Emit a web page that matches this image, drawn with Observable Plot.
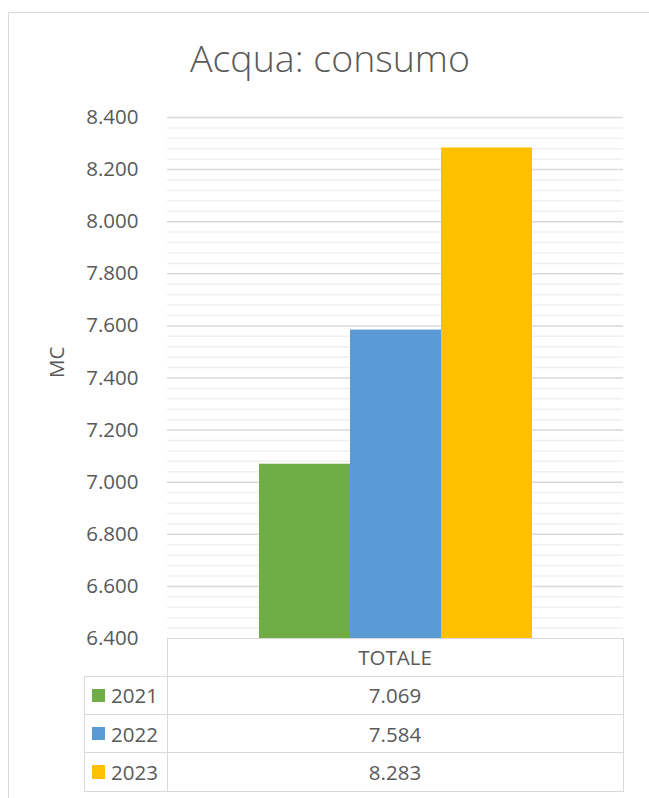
<!DOCTYPE html>
<html>
<head>
<meta charset="utf-8">
<script src="https://cdn.jsdelivr.net/npm/d3@7"></script>
<script src="https://cdn.jsdelivr.net/npm/@observablehq/plot@0.6"></script>
<style>
  html, body { margin: 0; padding: 0; background: #fff; }
  #wrap { position: relative; width: 649px; height: 798px; overflow: hidden; font-family: "Open Sans", sans-serif; color: #595959; }
  #border { position: absolute; left: 8px; top: 12px; width: 800px; height: 900px; border-top: 1.5px solid #d9d9d9; border-left: 1.5px solid #d9d9d9; }
  #title { position: absolute; left: 0; width: 660px; top: 36px; text-align: center; font-size: 37.5px; font-weight: 300; line-height: 44px; color: #595959; }
  #chart { position: absolute; left: 0; top: 0; }
  .cell { position: absolute; box-sizing: border-box; border: 1.5px solid #d9d9d9; font-size: 20.5px; color: #595959; display: flex; align-items: center; }
</style>
</head>
<body>
<div id="wrap">
  <div id="border"></div>
  <div id="title">Acqua: consumo</div>
  <div id="chart"></div>
  <div id="table"></div>
</div>
<script>
const years = ["2021", "2022", "2023"];
const values = [7069, 7584, 8283];
const colors = ["#70ad47", "#5b9bd5", "#ffc000"];
const category = "TOTALE";
const yLabel = "MC";
const yDomain = [6400, 8400];

const it = d3.formatLocale({decimal: ",", thousands: ".", grouping: [3], currency: ["€", ""]});
const fmt = it.format(",");

const data = years.map((y, i) => ({year: y, value: values[i], color: colors[i]}));
const majorTicks = d3.range(yDomain[0], yDomain[1] + 1, 200);
const minorTicks = d3.range(yDomain[0], yDomain[1], 40).filter(v => v % 200 !== 0);

const plot = Plot.plot({
  width: 649,
  height: 640,
  marginTop: 117,
  marginBottom: 2,
  marginLeft: 167,
  marginRight: 26,
  style: {fontFamily: "Open Sans, sans-serif", color: "#595959", background: "transparent", overflow: "visible"},
  x: {domain: years, padding: 0, inset: 91.2, axis: null},
  y: {domain: yDomain, axis: null},
  marks: [
    Plot.ruleY(minorTicks, {stroke: "#f0f0f0", strokeWidth: 1.5}),
    Plot.ruleY(majorTicks.slice(1), {stroke: "#d9d9d9", strokeWidth: 1.5}),
    Plot.barY(data, {x: "year", y1: yDomain[0], y2: "value", fill: "color"}),
    Plot.axisY(majorTicks, {tickSize: 0, tickPadding: 29, tickFormat: fmt, fontSize: 20.5, fill: "#595959", label: null}),
    Plot.text([yLabel], {frameAnchor: "left", dx: -110, rotate: -90, fontSize: 20.5, fill: "#595959", text: d => d})
  ]
});
document.getElementById("chart").appendChild(plot);

// data table under the chart
const table = document.getElementById("table");
function cell(left, top, w, h, html, center) {
  const d = document.createElement("div");
  d.className = "cell";
  d.style.left = left + "px";
  d.style.top = top + "px";
  d.style.width = w + "px";
  d.style.height = h + "px";
  d.style.justifyContent = center ? "center" : "flex-start";
  d.innerHTML = html;
  table.appendChild(d);
}
const rowH = 38.3;
const top0 = 637.5;
cell(166.5, top0, 457, rowH + 1, category, true);
years.forEach((y, i) => {
  const t = top0 + rowH * (i + 1);
  cell(83.5, t, 84, rowH + 1, `<span style="display:inline-block;width:13.5px;height:13.5px;background:${colors[i]};margin-left:7px;margin-right:6px"></span>${y}`, false);
  cell(166.5, t, 457, rowH + 1, fmt(values[i]), true);
});
</script>
</body>
</html>
